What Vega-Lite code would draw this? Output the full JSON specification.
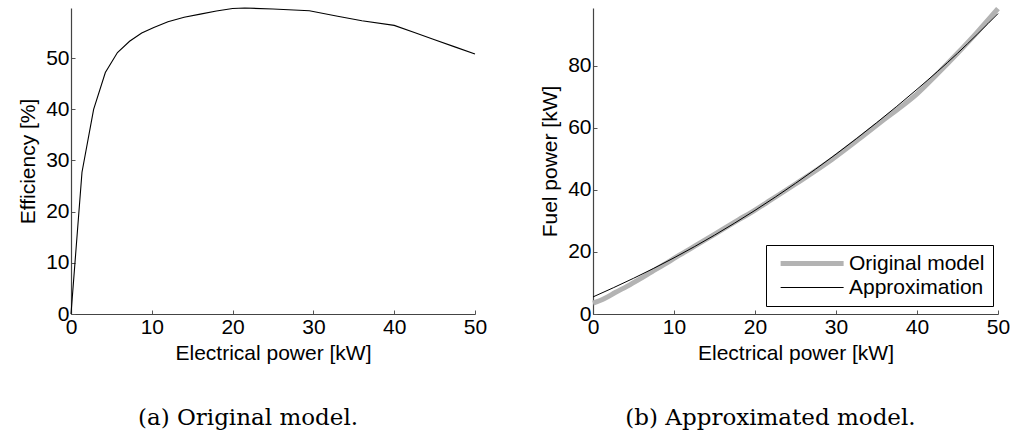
{
  "$schema": "https://vega.github.io/schema/vega-lite/v6.json",
  "padding": {"left": 17, "top": -2, "right": 5, "bottom": 5},
  "background": "white",
  "spacing": 52,
  "config": {
    "view": {"stroke": null},
    "font": "Liberation Sans",
    "axis": {
      "grid": false,
      "labelFont": "Liberation Sans",
      "labelFontSize": 21,
      "labelColor": "black",
      "titleFont": "Liberation Sans",
      "titleFontSize": 21,
      "titleFontWeight": "normal",
      "titleColor": "black",
      "tickSize": -4,
      "tickColor": "#555",
      "domainColor": "#444",
      "domainWidth": 1.2,
      "labelPadding": 6,
      "labelFlush": false,
      "labelOverlap": false
    },
    "axisX": {"titlePadding": 5},
    "axisY": {"titlePadding": 7},
    "legend": {
      "orient": "none",
      "legendX": 695,
      "legendY": 237,
      "title": null,
      "symbolType": "M-1,0H7",
      "symbolSize": 248,
      "symbolOffset": 4,
      "labelFont": "Liberation Sans",
      "labelFontSize": 21,
      "labelColor": "black",
      "strokeColor": "black",
      "fillColor": "white",
      "padding": 8,
      "rowPadding": 2,
      "labelOffset": 50
    },
    "title": {"font": "DejaVu Serif", "fontSize": 23, "fontWeight": "normal", "color": "black"}
  },
  "hconcat": [
    {
      "width": 404,
      "height": 306,
      "title": {"text": "(a) Original model.", "orient": "bottom", "offset": 44, "dx": -25},
      "data": {"values": [
        {"p": 0, "eff": 0},
        {"p": 1.36, "eff": 27.7},
        {"p": 2.8, "eff": 40.0},
        {"p": 4.25, "eff": 47.2},
        {"p": 5.75, "eff": 51.1},
        {"p": 7.25, "eff": 53.3},
        {"p": 8.75, "eff": 54.9},
        {"p": 10.25, "eff": 56.0},
        {"p": 12, "eff": 57.1},
        {"p": 14, "eff": 58.0},
        {"p": 16, "eff": 58.6},
        {"p": 18, "eff": 59.2},
        {"p": 20, "eff": 59.7},
        {"p": 21.5, "eff": 59.8},
        {"p": 25, "eff": 59.6},
        {"p": 29.5, "eff": 59.25},
        {"p": 33, "eff": 58.2},
        {"p": 36, "eff": 57.3},
        {"p": 40, "eff": 56.4},
        {"p": 42.5, "eff": 55.0},
        {"p": 45, "eff": 53.6},
        {"p": 47.5, "eff": 52.2},
        {"p": 50, "eff": 50.8}
      ]},
      "mark": {"type": "line", "color": "black", "strokeWidth": 1.1},
      "encoding": {
        "x": {"field": "p", "type": "quantitative", "scale": {"domain": [0, 50], "nice": false}, "axis": {"title": "Electrical power [kW]", "values": [0, 10, 20, 30, 40, 50]}},
        "y": {"field": "eff", "type": "quantitative", "scale": {"domain": [0, 59.8], "nice": false, "zero": true}, "axis": {"title": "Efficiency [%]", "values": [0, 10, 20, 30, 40, 50]}}
      }
    },
    {
      "width": 405,
      "height": 306,
      "title": {"text": "(b) Approximated model.", "orient": "bottom", "offset": 44, "dx": -25},
      "data": {"values": [
        {"p": 0, "fuel": 3.5, "series": "Original model"},
        {"p": 1.36, "fuel": 4.9, "series": "Original model"},
        {"p": 2.8, "fuel": 7.0, "series": "Original model"},
        {"p": 4.25, "fuel": 9.0, "series": "Original model"},
        {"p": 5.75, "fuel": 11.25, "series": "Original model"},
        {"p": 7.25, "fuel": 13.6, "series": "Original model"},
        {"p": 8.75, "fuel": 15.9, "series": "Original model"},
        {"p": 10.25, "fuel": 18.3, "series": "Original model"},
        {"p": 12, "fuel": 21.0, "series": "Original model"},
        {"p": 14, "fuel": 24.1, "series": "Original model"},
        {"p": 16, "fuel": 27.3, "series": "Original model"},
        {"p": 18, "fuel": 30.4, "series": "Original model"},
        {"p": 20, "fuel": 33.5, "series": "Original model"},
        {"p": 21.5, "fuel": 36.0, "series": "Original model"},
        {"p": 25, "fuel": 41.9, "series": "Original model"},
        {"p": 29.5, "fuel": 49.8, "series": "Original model"},
        {"p": 33, "fuel": 56.7, "series": "Original model"},
        {"p": 36, "fuel": 62.8, "series": "Original model"},
        {"p": 40, "fuel": 70.9, "series": "Original model"},
        {"p": 42.5, "fuel": 77.3, "series": "Original model"},
        {"p": 45, "fuel": 84.0, "series": "Original model"},
        {"p": 47.5, "fuel": 91.0, "series": "Original model"},
        {"p": 50, "fuel": 98.4, "series": "Original model"},
        {"p": 0, "fuel": 5.5, "series": "Approximation"},
        {"p": 5, "fuel": 11.5, "series": "Approximation"},
        {"p": 10, "fuel": 18.1, "series": "Approximation"},
        {"p": 15, "fuel": 25.4, "series": "Approximation"},
        {"p": 20, "fuel": 33.4, "series": "Approximation"},
        {"p": 25, "fuel": 42.1, "series": "Approximation"},
        {"p": 30, "fuel": 51.5, "series": "Approximation"},
        {"p": 35, "fuel": 61.6, "series": "Approximation"},
        {"p": 40, "fuel": 72.4, "series": "Approximation"},
        {"p": 45, "fuel": 84.0, "series": "Approximation"},
        {"p": 50, "fuel": 96.8, "series": "Approximation"}
      ]},
      "encoding": {
        "x": {"field": "p", "type": "quantitative", "scale": {"domain": [0, 50], "nice": false}, "axis": {"title": "Electrical power [kW]", "values": [0, 10, 20, 30, 40, 50]}},
        "y": {"field": "fuel", "type": "quantitative", "scale": {"domain": [0, 98.6], "nice": false}, "axis": {"title": "Fuel power [kW]", "values": [0, 20, 40, 60, 80]}},
        "color": {"field": "series", "type": "nominal", "scale": {"domain": ["Original model", "Approximation"], "range": ["#b3b3b3", "black"]}},
        "strokeWidth": {"field": "series", "type": "nominal", "scale": {"domain": ["Original model", "Approximation"], "range": [5, 1]}}
      },
      "layer": [
        {"transform": [{"filter": "datum.series === 'Original model'"}], "mark": {"type": "line", "interpolate": "monotone"}},
        {"transform": [{"filter": "datum.series === 'Approximation'"}], "mark": {"type": "line", "interpolate": "monotone"}}
      ]
    }
  ]
}
